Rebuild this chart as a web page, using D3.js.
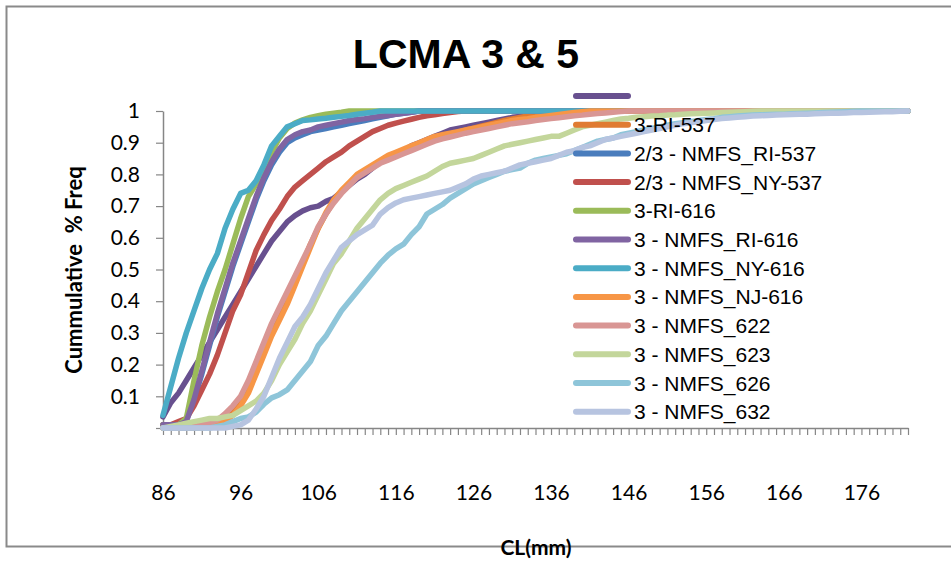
<!DOCTYPE html>
<html>
<head>
<meta charset="utf-8">
<script src="https://cdn.jsdelivr.net/npm/d3@7/dist/d3.min.js"></script>
<style>
  body { margin: 0; background: #fff; }
  svg { display: block; }
</style>
</head>
<body>
<svg id="chart" width="951" height="562"></svg>
<script>
// Carapace length classes (mm) on the category axis
const clStart = 86, clEnd = 182;
const categories = d3.range(clStart, clEnd + 1);
const xLabels = [86, 96, 106, 116, 126, 136, 146, 156, 166, 176];
const yTicks = [0, 0.1, 0.2, 0.3, 0.4, 0.5, 0.6, 0.7, 0.8, 0.9, 1];

const seriesNames = [
  "", "3-RI-537", "2/3 - NMFS_RI-537", "2/3 - NMFS_NY-537", "3-RI-616",
  "3 - NMFS_RI-616", "3 - NMFS_NY-616", "3 - NMFS_NJ-616", "3 - NMFS_622",
  "3 - NMFS_623", "3 - NMFS_626", "3 - NMFS_632"
];
const seriesColors = [
  "#68508f", "#e07b32", "#4a7dbd", "#c0504d", "#9bbb59",
  "#8064a2", "#4bacc6", "#f79646", "#d99694",
  "#c3d69b", "#8ec5d9", "#b7c4e0"
];

// Cumulative frequency per 1 mm class, 86 .. 182
const sUnnamed = [
  0.035,0.08,0.11,0.15,0.19,0.23,0.27,0.31,0.35,0.39,
  0.43,0.47,0.51,0.55,0.59,0.62,0.65,0.67,0.685,0.695,
  0.70,0.715,0.725,0.745,0.765,0.785,0.80,0.82,0.84,0.855,
  0.865,0.875,0.89,0.90,0.91,0.92,0.93,0.94,0.945,0.95,
  0.955,0.96,0.965,0.97,0.975,0.98,0.983,0.986,0.99,0.992,
  0.995,0.997,1,1,1,1,1,1,1,1,
  1,1,1,1,1,1,1,1,1,1,
  1,1,1,1,1,1,1,1,1,1,
  1,1,1,1,1,1,1,1,1,1,
  1,1,1,1,1,1,1
];
const sRI537 = [
  0,0,0,0,0,0.005,0.01,0.02,0.035,0.06,
  0.09,0.13,0.19,0.25,0.31,0.36,0.41,0.47,0.52,0.58,
  0.63,0.675,0.715,0.745,0.77,0.79,0.81,0.825,0.84,0.855,
  0.865,0.875,0.885,0.895,0.905,0.915,0.92,0.927,0.933,0.94,
  0.946,0.952,0.958,0.964,0.97,0.975,0.98,0.984,0.988,0.992,
  0.995,0.998,1,1,1,1,1,1,1,1,
  1,1,1,1,1,1,1,1,1,1,
  1,1,1,1,1,1,1,1,1,1,
  1,1,1,1,1,1,1,1,1,1,
  1,1,1,1,1,1,1
];
const sNmfsRI537 = [
  0.01,0.01,0.015,0.025,0.09,0.17,0.26,0.35,0.43,0.51,
  0.58,0.65,0.72,0.78,0.83,0.87,0.90,0.915,0.925,0.935,
  0.94,0.945,0.95,0.955,0.96,0.965,0.97,0.975,0.98,0.985,
  0.99,0.993,0.996,1,1,1,1,1,1,1,
  1,1,1,1,1,1,1,1,1,1,
  1,1,1,1,1,1,1,1,1,1,
  1,1,1,1,1,1,1,1,1,1,
  1,1,1,1,1,1,1,1,1,1,
  1,1,1,1,1,1,1,1,1,1,
  1,1,1,1,1,1,1
];
const sNmfsNY537 = [
  0.01,0.01,0.02,0.03,0.07,0.12,0.17,0.23,0.30,0.37,
  0.42,0.49,0.56,0.61,0.655,0.69,0.73,0.76,0.78,0.80,
  0.82,0.84,0.855,0.87,0.89,0.905,0.92,0.935,0.945,0.955,
  0.962,0.968,0.974,0.98,0.985,0.988,0.992,0.995,0.998,1,
  1,1,1,1,1,1,1,1,1,1,
  1,1,1,1,1,1,1,1,1,1,
  1,1,1,1,1,1,1,1,1,1,
  1,1,1,1,1,1,1,1,1,1,
  1,1,1,1,1,1,1,1,1,1,
  1,1,1,1,1,1,1
];
const sRI616 = [
  0.01,0.01,0.01,0.03,0.15,0.26,0.35,0.43,0.50,0.58,
  0.66,0.73,0.77,0.82,0.87,0.915,0.945,0.962,0.972,0.98,
  0.985,0.99,0.993,0.996,1,1,1,1,1,1,
  1,1,1,1,1,1,1,1,1,1,
  1,1,1,1,1,1,1,1,1,1,
  1,1,1,1,1,1,1,1,1,1,
  1,1,1,1,1,1,1,1,1,1,
  1,1,1,1,1,1,1,1,1,1,
  1,1,1,1,1,1,1,1,1,1,
  1,1,1,1,1,1,1
];
const sNmfsRI616 = [
  0.01,0.01,0.01,0.02,0.09,0.18,0.27,0.36,0.44,0.52,
  0.59,0.66,0.73,0.79,0.84,0.88,0.91,0.925,0.935,0.94,
  0.95,0.955,0.96,0.965,0.97,0.973,0.976,0.98,0.983,0.986,
  0.99,0.993,0.996,1,1,1,1,1,1,1,
  1,1,1,1,1,1,1,1,1,1,
  1,1,1,1,1,1,1,1,1,1,
  1,1,1,1,1,1,1,1,1,1,
  1,1,1,1,1,1,1,1,1,1,
  1,1,1,1,1,1,1,1,1,1,
  1,1,1,1,1,1,1
];
const sNmfsNY616 = [
  0.04,0.13,0.22,0.30,0.37,0.44,0.50,0.55,0.63,0.69,
  0.74,0.75,0.78,0.83,0.89,0.92,0.95,0.96,0.97,0.972,
  0.975,0.977,0.98,0.983,0.986,0.99,0.993,0.996,1,1,
  1,1,1,1,1,1,1,1,1,1,
  1,1,1,1,1,1,1,1,1,1,
  1,1,1,1,1,1,1,1,1,1,
  1,1,1,1,1,1,1,1,1,1,
  1,1,1,1,1,1,1,1,1,1,
  1,1,1,1,1,1,1,1,1,1,
  1,1,1,1,1,1,1
];
const sNmfsNJ616 = [
  0,0,0,0,0,0,0.005,0.01,0.02,0.04,
  0.07,0.11,0.17,0.23,0.29,0.34,0.39,0.45,0.51,0.57,
  0.63,0.68,0.72,0.75,0.775,0.80,0.815,0.83,0.845,0.86,
  0.87,0.88,0.89,0.90,0.91,0.92,0.925,0.93,0.935,0.94,
  0.945,0.95,0.955,0.96,0.965,0.97,0.973,0.976,0.98,0.983,
  0.986,0.989,0.992,0.995,0.998,1,1,1,1,1,
  1,1,1,1,1,1,1,1,1,1,
  1,1,1,1,1,1,1,1,1,1,
  1,1,1,1,1,1,1,1,1,1,
  1,1,1,1,1,1,1
];
const sNmfs622 = [
  0,0,0,0,0.005,0.01,0.015,0.025,0.045,0.07,
  0.10,0.15,0.21,0.27,0.33,0.38,0.43,0.48,0.53,0.58,
  0.635,0.675,0.71,0.74,0.765,0.79,0.805,0.82,0.835,0.845,
  0.855,0.865,0.875,0.885,0.895,0.905,0.912,0.918,0.924,0.93,
  0.935,0.94,0.945,0.95,0.955,0.96,0.963,0.966,0.97,0.973,
  0.976,0.979,0.982,0.985,0.987,0.99,0.992,0.994,0.996,0.998,
  1,1,1,1,1,1,1,1,1,1,
  1,1,1,1,1,1,1,1,1,1,
  1,1,1,1,1,1,1,1,1,1,
  1,1,1,1,1,1,1
];
const sNmfs623 = [
  0,0.005,0.01,0.015,0.02,0.025,0.03,0.03,0.035,0.04,
  0.055,0.07,0.085,0.11,0.15,0.20,0.24,0.28,0.33,0.37,
  0.42,0.47,0.52,0.55,0.59,0.63,0.66,0.69,0.72,0.74,
  0.755,0.765,0.775,0.785,0.795,0.81,0.825,0.835,0.84,0.845,
  0.85,0.86,0.87,0.88,0.89,0.895,0.90,0.905,0.91,0.915,
  0.92,0.92,0.93,0.94,0.95,0.955,0.96,0.965,0.97,0.975,
  0.977,0.98,0.982,0.984,0.985,0.987,0.988,0.99,0.991,0.992,
  0.993,0.994,0.995,0.996,0.997,0.998,0.999,1,1,1,
  1,1,1,1,1,1,1,1,1,1,
  1,1,1,1,1,1,1
];
const sNmfs626 = [
  0,0,0,0,0,0,0,0.005,0.01,0.02,
  0.03,0.035,0.05,0.075,0.095,0.105,0.12,0.15,0.18,0.21,
  0.26,0.29,0.33,0.37,0.40,0.43,0.46,0.49,0.52,0.545,
  0.565,0.58,0.61,0.635,0.675,0.69,0.705,0.725,0.74,0.755,
  0.77,0.78,0.79,0.80,0.81,0.815,0.82,0.835,0.845,0.85,
  0.855,0.86,0.865,0.875,0.885,0.895,0.905,0.91,0.915,0.925,
  0.93,0.935,0.94,0.945,0.95,0.955,0.96,0.963,0.966,0.97,
  0.973,0.976,0.98,0.982,0.984,0.986,0.987,0.988,0.989,0.99,
  0.99,0.991,0.992,0.993,0.994,0.995,0.996,0.997,0.998,0.999,
  1,1,1,1,1,1,1
];
const sNmfs632 = [
  0,0,0,0,0,0,0,0,0,0.005,
  0.01,0.025,0.06,0.10,0.16,0.22,0.27,0.32,0.35,0.39,
  0.44,0.49,0.53,0.57,0.59,0.61,0.625,0.64,0.675,0.695,
  0.71,0.72,0.725,0.73,0.735,0.74,0.745,0.75,0.76,0.77,
  0.785,0.795,0.80,0.805,0.81,0.82,0.83,0.835,0.84,0.845,
  0.85,0.86,0.87,0.875,0.885,0.89,0.90,0.91,0.915,0.92,
  0.925,0.93,0.935,0.94,0.945,0.95,0.955,0.96,0.963,0.966,
  0.97,0.973,0.976,0.978,0.98,0.982,0.984,0.985,0.986,0.987,
  0.988,0.989,0.99,0.99,0.991,0.992,0.993,0.993,0.994,0.995,
  0.995,0.996,0.997,0.998,0.998,0.999,1
];

const seriesValues = [
  sUnnamed, sRI537, sNmfsRI537, sNmfsNY537, sRI616, sNmfsRI616,
  sNmfsNY616, sNmfsNJ616, sNmfs622, sNmfs623, sNmfs626, sNmfs632
];

const svg = d3.select("#chart");
const plot = { left: 163, right: 908, top: 111, bottom: 428 };

// Outer chart frame
svg.append("rect")
  .attr("x", 6.5).attr("y", 6.5)
  .attr("width", 980).attr("height", 540)
  .attr("fill", "none").attr("stroke", "#8a8a8a").attr("stroke-width", 2);

const x = d3.scaleLinear().domain([clStart, clEnd]).range([plot.left, plot.right]);
const y = d3.scaleLinear().domain([0, 1]).range([plot.bottom, plot.top]);

// Title
svg.append("text")
  .attr("x", 466).attr("y", 68)
  .attr("text-anchor", "middle")
  .attr("font-family", "'Liberation Sans', Arial, sans-serif")
  .attr("font-weight", "bold").attr("font-size", 41)
  .attr("fill", "#000")
  .text("LCMA 3 & 5");

// Axes
const axisColor = "#868686";
const yAxis = svg.append("g")
  .attr("transform", `translate(${plot.left},0)`)
  .call(d3.axisLeft(y).tickValues(yTicks).tickSize(7).tickSizeOuter(0).tickPadding(16)
    .tickFormat(d => d === 0 ? "" : d3.format("~g")(d)));
yAxis.selectAll("text")
  .attr("font-family", "Lato, 'Open Sans', sans-serif")
  .attr("font-size", 21).attr("fill", "#000");

const xAxis = svg.append("g")
  .attr("transform", `translate(0,${plot.bottom})`)
  .call(d3.axisBottom(x).tickValues(categories).tickSize(7).tickSizeOuter(0).tickFormat(""));

const xLabelAxis = svg.append("g")
  .attr("transform", `translate(0,${plot.bottom})`)
  .call(d3.axisBottom(x).tickValues(xLabels).tickSize(0).tickPadding(57).tickFormat(d3.format("d")));
xLabelAxis.select(".domain").remove();
xLabelAxis.selectAll("text")
  .attr("font-family", "Lato, 'Open Sans', sans-serif")
  .attr("font-size", 21).attr("fill", "#000");

[yAxis, xAxis].forEach(g => {
  g.select(".domain").attr("stroke", axisColor).attr("stroke-width", 1.5);
  g.selectAll(".tick line").attr("stroke", axisColor).attr("stroke-width", 1.2);
});

// Axis titles
svg.append("text")
  .attr("transform", "translate(82,270) rotate(-90)")
  .attr("text-anchor", "middle")
  .attr("font-family", "Lato, 'Open Sans', sans-serif")
  .attr("font-weight", "bold").attr("font-size", 22)
  .attr("fill", "#000")
  .style("white-space", "pre")
  .text("Cummulative  % Freq");

svg.append("text")
  .attr("x", 536).attr("y", 555)
  .attr("text-anchor", "middle")
  .attr("font-family", "Lato, 'Open Sans', sans-serif")
  .attr("font-weight", "bold").attr("font-size", 21)
  .attr("fill", "#000")
  .text("CL(mm)");

// Cumulative frequency lines
const line = d3.line()
  .x((d, i) => x(categories[i]))
  .y(d => y(d));

svg.append("g").selectAll("path")
  .data(seriesValues)
  .join("path")
  .attr("d", line)
  .attr("fill", "none")
  .attr("stroke", (d, i) => seriesColors[i])
  .attr("stroke-width", 5.5)
  .attr("stroke-linejoin", "round")
  .attr("stroke-linecap", "round");

// Legend
const legendTop = 96, legendStep = 28.7;
const legend = svg.append("g").selectAll("g")
  .data(seriesNames)
  .join("g")
  .attr("transform", (d, i) => `translate(0,${legendTop + i * legendStep})`);

legend.append("line")
  .attr("x1", 576).attr("x2", 628)
  .attr("stroke", (d, i) => seriesColors[i])
  .attr("stroke-width", 6)
  .attr("stroke-linecap", "round");

legend.append("text")
  .attr("x", 634).attr("y", 0)
  .attr("dy", "0.36em")
  .attr("font-family", "'Liberation Sans', Arial, sans-serif")
  .attr("font-size", 21).attr("fill", "#000")
  .text(d => d);
</script>
</body>
</html>
